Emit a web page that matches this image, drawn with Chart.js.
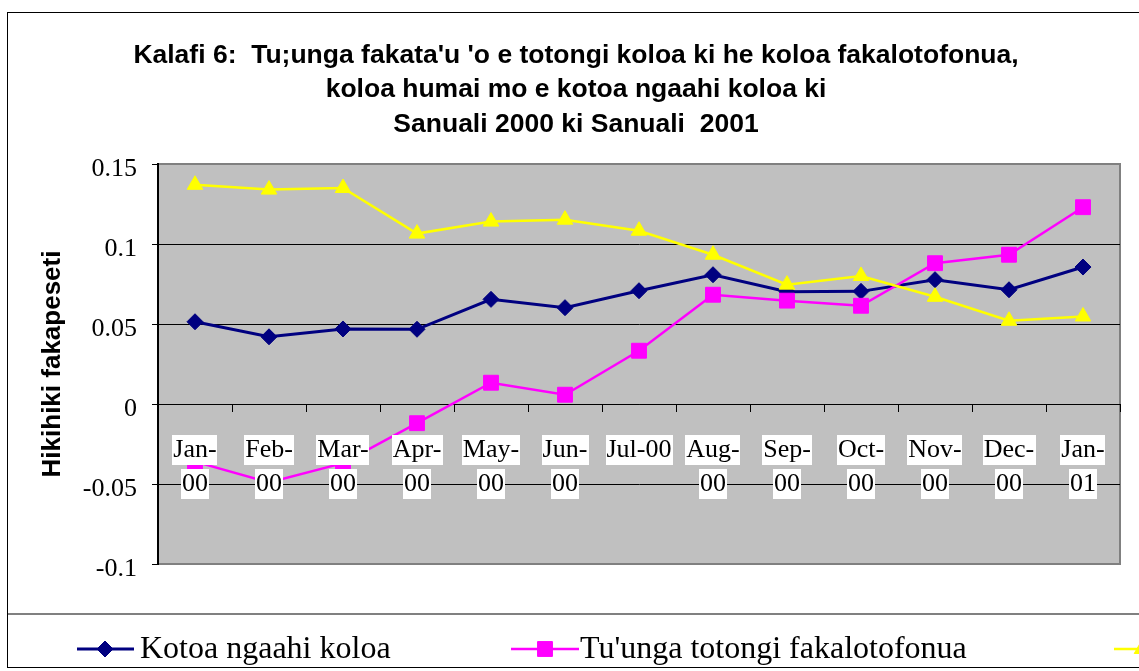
<!DOCTYPE html>
<html>
<head>
<meta charset="utf-8">
<script src="https://cdn.jsdelivr.net/npm/chart.js@4.4.1/dist/chart.umd.min.js"></script>
<style>
html,body{margin:0;padding:0;background:#fff;}
#wrap{position:relative;width:1139px;height:671px;}
canvas{display:block;}
</style>
</head>
<body>
<div id="wrap"><canvas id="c" width="1139" height="671"></canvas></div>
<script>
// ---- data ----
const categories = [["Jan-","00"],["Feb-","00"],["Mar-","00"],["Apr-","00"],["May-","00"],["Jun-","00"],"Jul-00",["Aug-","00"],["Sep-","00"],["Oct-","00"],["Nov-","00"],["Dec-","00"],["Jan-","01"]];
const kotoaValues = [0.0514, 0.042, 0.0469, 0.0467, 0.0654, 0.0602, 0.0708, 0.0808, 0.0702, 0.0704, 0.0777, 0.0714, 0.0856];
const fakalotofonuaValues = [-0.036, -0.049, -0.037, -0.012, 0.0133, 0.0058, 0.0333, 0.0683, 0.0646, 0.0614, 0.088, 0.0933, 0.123];
const humaiValues = [0.137, 0.134, 0.135, 0.1065, 0.114, 0.1152, 0.1083, 0.0933, 0.0746, 0.080, 0.067, 0.052, 0.0547];
const seriesNames = ["Kotoa ngaahi koloa", "Tu'unga totongi fakalotofonua", "Tu'unga totongi koloa humai"];
const yTickLabels = ["-0.1", "-0.05", "0", "0.05", "0.1", "0.15"];
const titleLines = ["Kalafi 6:  Tu;unga fakata'u 'o e totongi koloa ki he koloa fakalotofonua,", "koloa humai mo e kotoa ngaahi koloa ki", "Sanuali 2000 ki Sanuali  2001"];
const yTitle = "Hikihiki fakapeseti";

const SERIF = "'Liberation Serif', 'Times New Roman', serif";
const SANS = "'Liberation Sans', Arial, sans-serif";
const X_TICK_LEN = 7, X_PAD = 22, X_FONT = 26, X_LH = 1.3;

const bgPlugin = {
  id: 'bg',
  beforeDraw(chart) {
    const ctx = chart.ctx, a = chart.chartArea;
    ctx.save();
    ctx.fillStyle = '#fff';
    ctx.fillRect(0, 0, chart.width, chart.height);
    // outer frame
    ctx.strokeStyle = '#000';
    ctx.lineWidth = 1;
    ctx.strokeRect(7.5, 12.5, 1160, 655);
    // legend separator
    ctx.strokeStyle = '#808080';
    ctx.lineWidth = 2;
    ctx.beginPath(); ctx.moveTo(8, 614); ctx.lineTo(chart.width, 614); ctx.stroke();
    // plot area
    ctx.fillStyle = '#C0C0C0';
    ctx.fillRect(a.left, a.top, a.right - a.left, a.bottom - a.top);
    ctx.strokeStyle = '#808080';
    ctx.lineWidth = 2;
    ctx.strokeRect(a.left, a.top, a.right - a.left, a.bottom - a.top);
    ctx.restore();
  }
};

const labelBoxPlugin = {
  id: 'labelBoxes',
  afterDatasetsDraw(chart) {
    const ctx = chart.ctx, xs = chart.scales.x, ys = chart.scales.y;
    const lh = X_FONT * X_LH;
    const y0 = ys.getPixelForValue(0) + X_TICK_LEN + X_PAD;
    ctx.save();
    ctx.font = X_FONT + 'px ' + SERIF;
    ctx.fillStyle = '#fff';
    categories.forEach((lab, i) => {
      const lines = Array.isArray(lab) ? lab : [lab];
      const x = xs.getPixelForTick(i);
      lines.forEach((ln, k) => {
        const w = ctx.measureText(ln).width;
        const cy = y0 + lh / 2 + k * lh;
        ctx.fillRect(Math.round(x - w / 2 - 1), Math.round(cy - 15), Math.round(w + 2), 30);
      });
    });
    ctx.restore();
  }
};

const legendPlugin = {
  id: 'customLegend',
  afterDraw(chart) {
    const ctx = chart.ctx;
    const H = Chart.helpers;
    const items = [
      {ds: 0, x1: 77, x2: 134, mx: 105, tx: 140},
      {ds: 1, x1: 511, x2: 579, mx: 545, tx: 580},
      {ds: 2, x1: 1114, x2: 1170, mx: 1142, tx: 1176}
    ];
    const ly = 649;
    ctx.save();
    items.forEach(it => {
      const d = chart.data.datasets[it.ds];
      ctx.strokeStyle = d.borderColor;
      ctx.lineWidth = d.borderWidth;
      ctx.beginPath(); ctx.moveTo(it.x1, ly); ctx.lineTo(it.x2, ly); ctx.stroke();
      ctx.fillStyle = d.pointBackgroundColor;
      ctx.strokeStyle = d.pointBorderColor;
      ctx.lineWidth = 1;
      H.drawPoint(ctx, {pointStyle: d.pointStyle, radius: d.pointRadius, rotation: 0, borderWidth: 1}, it.mx, ly);
      ctx.fillStyle = '#000';
      ctx.font = '32px ' + SERIF;
      ctx.textBaseline = 'middle';
      ctx.textAlign = 'left';
      ctx.fillText(d.label, it.tx, ly + 1);
    });
    ctx.restore();
  }
};

new Chart(document.getElementById('c'), {
  type: 'line',
  data: {
    labels: categories,
    datasets: [
      {label: seriesNames[0], data: kotoaValues, borderColor: '#000080', backgroundColor: '#000080',
       pointBackgroundColor: '#000080', pointBorderColor: '#000080', borderWidth: 3,
       pointStyle: 'rectRot', pointRadius: 8, pointBorderWidth: 1, order: 3},
      {label: seriesNames[1], data: fakalotofonuaValues, borderColor: '#FF00FF', backgroundColor: '#FF00FF',
       pointBackgroundColor: '#FF00FF', pointBorderColor: '#FF00FF', borderWidth: 2.5,
       pointStyle: 'rect', pointRadius: 10.5, pointBorderWidth: 1, order: 2},
      {label: seriesNames[2], data: humaiValues, borderColor: '#FFFF00', backgroundColor: '#FFFF00',
       pointBackgroundColor: '#FFFF00', pointBorderColor: '#FFFF00', borderWidth: 2.5,
       pointStyle: 'triangle', pointRadius: 9, pointBorderWidth: 1, order: 1}
    ]
  },
  options: {
    responsive: false,
    animation: false,
    devicePixelRatio: 1,
    layout: {padding: {top: 20, left: 32, right: 19, bottom: 107}},
    plugins: {
      legend: {display: false},
      tooltip: {enabled: false},
      title: {
        display: true, text: titleLines, color: '#000',
        font: {family: SANS, size: 26.5, weight: 'bold', lineHeight: 34.5 / 26.5},
        padding: {top: 18, bottom: 22.5}
      }
    },
    scales: {
      x: {
        type: 'category',
        position: {y: 0},
        offset: true,
        grid: {display: true, drawOnChartArea: false, drawTicks: true, tickLength: X_TICK_LEN, color: '#000', offset: true, lineWidth: 1},
        border: {display: true, color: '#000', width: 1},
        ticks: {color: '#000', font: {family: SERIF, size: X_FONT, lineHeight: X_LH}, padding: X_PAD, z: 1, autoSkip: false, maxRotation: 0, minRotation: 0}
      },
      y: {
        min: -0.1, max: 0.15,
        afterFit(s) { s.width = 126; },
        grid: {
          color: (c) => (c.index === 0 || c.index === 5) ? 'rgba(0,0,0,0)' : '#000',
          tickColor: '#000', lineWidth: 1, drawTicks: true, tickLength: 6
        },
        border: {display: true, color: '#000', width: 2},
        ticks: {
          stepSize: 0.05, color: '#000', padding: 15,
          font: {family: SERIF, size: 26, lineHeight: 10 / 26},
          callback: (v, i) => ['', yTickLabels[i]]
        },
        title: {
          display: true, text: yTitle, color: '#000',
          font: {family: SANS, size: 26, weight: 'bold'},
          padding: {top: 5, bottom: 0}
        }
      }
    }
  },
  plugins: [bgPlugin, labelBoxPlugin, legendPlugin]
});
</script>
</body>
</html>
